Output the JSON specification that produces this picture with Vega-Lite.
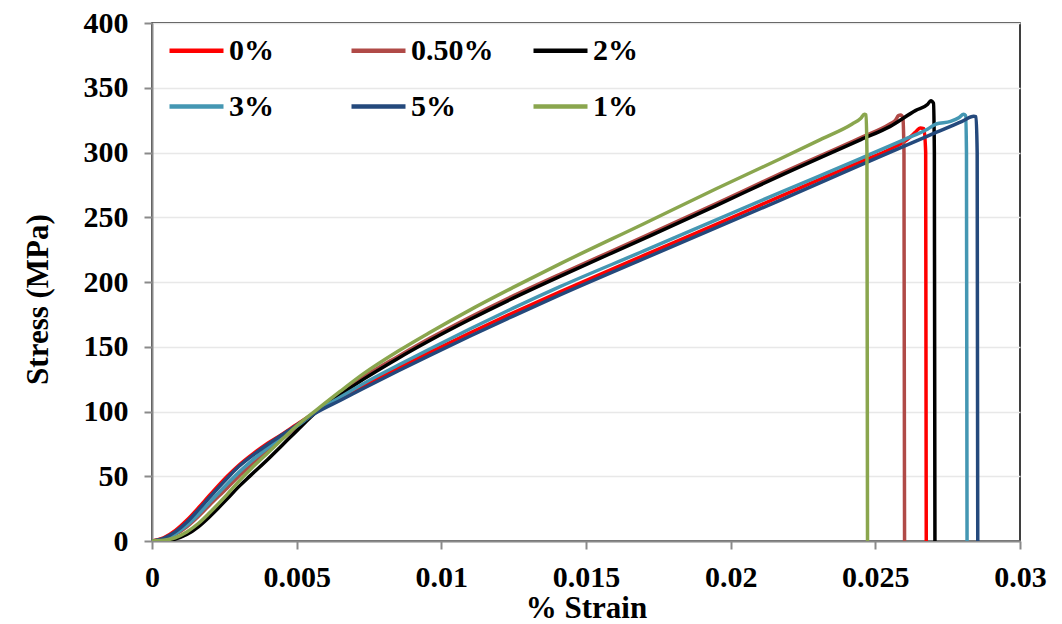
{
  "$schema": "https://vega.github.io/schema/vega-lite/v6.json",
  "width": 868,
  "height": 518,
  "autosize": {"type": "none"},
  "padding": {"left": 152, "top": 23, "right": 42, "bottom": 83},
  "background": "white",
  "config": {
    "view": {"stroke": "black", "strokeWidth": 1.5},
    "axis": {
      "labelFont": "Liberation Serif", "labelFontWeight": "bold", "labelFontSize": 30, "labelColor": "black",
      "titleFont": "Liberation Serif", "titleFontWeight": "bold", "titleFontSize": 31, "titleColor": "black",
      "domainColor": "#8a8a8a", "domainWidth": 2, "tickColor": "#8a8a8a", "tickWidth": 2, "tickSize": 8,
      "gridColor": "#e8e8e8", "gridWidth": 1.5, "labelFlush": false
    }
  },
  "data": {"values": [
    {"s":"0%","x":0,"y":0},{"s":"0%","x":0.0004,"y":2.5},{"s":"0%","x":0.0008,"y":8},{"s":"0%","x":0.0012,"y":16},{"s":"0%","x":0.0016,"y":25.5},{"s":"0%","x":0.002,"y":35.5},{"s":"0%","x":0.0026,"y":50},{"s":"0%","x":0.003,"y":58.5},{"s":"0%","x":0.0035,"y":67.5},{"s":"0%","x":0.004,"y":75.5},{"s":"0%","x":0.0045,"y":82.5},{"s":"0%","x":0.005,"y":90},{"s":"0%","x":0.0057,"y":100},{"s":"0%","x":0.0065,"y":109.9},{"s":"0%","x":0.0073,"y":119.5},{"s":"0%","x":0.0085,"y":133.4},{"s":"0%","x":0.0096,"y":145.7},{"s":"0%","x":0.011,"y":160.8},{"s":"0%","x":0.0125,"y":176.4},{"s":"0%","x":0.0141,"y":192.4},{"s":"0%","x":0.017,"y":220.5},{"s":"0%","x":0.0195,"y":244.5},{"s":"0%","x":0.0217,"y":266},{"s":"0%","x":0.0245,"y":293},{"s":"0%","x":0.0255,"y":302.5},{"s":"0%","x":0.0261,"y":310},{"s":"0%","x":0.0264,"y":316},{"s":"0%","x":0.02655,"y":319},{"s":"0%","x":0.02668,"y":318.5},{"s":"0%","x":0.02674,"y":300},{"s":"0%","x":0.02676,"y":0},
    {"s":"0.50%","x":0,"y":0},{"s":"0.50%","x":0.0004,"y":1.5},{"s":"0.50%","x":0.0008,"y":5},{"s":"0.50%","x":0.0012,"y":11},{"s":"0.50%","x":0.0016,"y":19},{"s":"0.50%","x":0.002,"y":28},{"s":"0.50%","x":0.0026,"y":41},{"s":"0.50%","x":0.003,"y":50},{"s":"0.50%","x":0.0035,"y":60},{"s":"0.50%","x":0.004,"y":70},{"s":"0.50%","x":0.0045,"y":79},{"s":"0.50%","x":0.005,"y":88},{"s":"0.50%","x":0.0057,"y":100.5},{"s":"0.50%","x":0.0065,"y":114},{"s":"0.50%","x":0.0073,"y":126.5},{"s":"0.50%","x":0.0085,"y":142.5},{"s":"0.50%","x":0.0096,"y":156.5},{"s":"0.50%","x":0.011,"y":173},{"s":"0.50%","x":0.0125,"y":189.5},{"s":"0.50%","x":0.0141,"y":206},{"s":"0.50%","x":0.017,"y":235},{"s":"0.50%","x":0.0195,"y":260.5},{"s":"0.50%","x":0.0217,"y":283.5},{"s":"0.50%","x":0.0245,"y":311.5},{"s":"0.50%","x":0.0255,"y":322},{"s":"0.50%","x":0.0257,"y":325},{"s":"0.50%","x":0.0258,"y":328.5},{"s":"0.50%","x":0.02588,"y":329},{"s":"0.50%","x":0.02595,"y":327},{"s":"0.50%","x":0.02599,"y":300},{"s":"0.50%","x":0.02601,"y":0},
    {"s":"2%","x":0,"y":0},{"s":"2%","x":0.0004,"y":0},{"s":"2%","x":0.0008,"y":1.5},{"s":"2%","x":0.0012,"y":5},{"s":"2%","x":0.0016,"y":11},{"s":"2%","x":0.002,"y":19},{"s":"2%","x":0.0026,"y":32.5},{"s":"2%","x":0.003,"y":42},{"s":"2%","x":0.0034,"y":50.5},{"s":"2%","x":0.004,"y":63},{"s":"2%","x":0.0045,"y":74},{"s":"2%","x":0.005,"y":85},{"s":"2%","x":0.0057,"y":100},{"s":"2%","x":0.0065,"y":112.8},{"s":"2%","x":0.0073,"y":124.8},{"s":"2%","x":0.0085,"y":141},{"s":"2%","x":0.0096,"y":154.8},{"s":"2%","x":0.011,"y":171.2},{"s":"2%","x":0.0125,"y":187.7},{"s":"2%","x":0.0141,"y":204.3},{"s":"2%","x":0.017,"y":233.5},{"s":"2%","x":0.0195,"y":259},{"s":"2%","x":0.0217,"y":282},{"s":"2%","x":0.0245,"y":310},{"s":"2%","x":0.0255,"y":320},{"s":"2%","x":0.0264,"y":332.5},{"s":"2%","x":0.0268,"y":337},{"s":"2%","x":0.02692,"y":340},{"s":"2%","x":0.02701,"y":338},{"s":"2%","x":0.02704,"y":300},{"s":"2%","x":0.02706,"y":0},
    {"s":"3%","x":0,"y":0},{"s":"3%","x":0.0004,"y":1.5},{"s":"3%","x":0.0008,"y":5.5},{"s":"3%","x":0.0012,"y":12},{"s":"3%","x":0.0016,"y":20.5},{"s":"3%","x":0.002,"y":30},{"s":"3%","x":0.0026,"y":44},{"s":"3%","x":0.003,"y":53},{"s":"3%","x":0.0035,"y":63},{"s":"3%","x":0.004,"y":72},{"s":"3%","x":0.0045,"y":80.5},{"s":"3%","x":0.005,"y":88.5},{"s":"3%","x":0.0057,"y":100},{"s":"3%","x":0.0065,"y":111},{"s":"3%","x":0.0073,"y":121.5},{"s":"3%","x":0.0085,"y":135.7},{"s":"3%","x":0.0096,"y":148.3},{"s":"3%","x":0.011,"y":163.9},{"s":"3%","x":0.0125,"y":180},{"s":"3%","x":0.0141,"y":196.4},{"s":"3%","x":0.017,"y":224},{"s":"3%","x":0.0195,"y":248},{"s":"3%","x":0.0217,"y":269},{"s":"3%","x":0.0245,"y":295.5},{"s":"3%","x":0.026,"y":310},{"s":"3%","x":0.0268,"y":318},{"s":"3%","x":0.0271,"y":322},{"s":"3%","x":0.0276,"y":324},{"s":"3%","x":0.0279,"y":327},{"s":"3%","x":0.02805,"y":329.5},{"s":"3%","x":0.02812,"y":328.5},{"s":"3%","x":0.02815,"y":300},{"s":"3%","x":0.02817,"y":0},
    {"s":"5%","x":0,"y":0},{"s":"5%","x":0.0004,"y":2},{"s":"5%","x":0.0008,"y":7},{"s":"5%","x":0.0012,"y":14.5},{"s":"5%","x":0.0016,"y":24},{"s":"5%","x":0.002,"y":34},{"s":"5%","x":0.0026,"y":48.5},{"s":"5%","x":0.003,"y":57.5},{"s":"5%","x":0.0035,"y":66.5},{"s":"5%","x":0.004,"y":74.5},{"s":"5%","x":0.0045,"y":82},{"s":"5%","x":0.005,"y":89.5},{"s":"5%","x":0.0057,"y":99.5},{"s":"5%","x":0.0065,"y":108.5},{"s":"5%","x":0.0073,"y":117.8},{"s":"5%","x":0.0085,"y":131.3},{"s":"5%","x":0.0096,"y":143.3},{"s":"5%","x":0.011,"y":158.3},{"s":"5%","x":0.0125,"y":173.9},{"s":"5%","x":0.0141,"y":190},{"s":"5%","x":0.017,"y":218},{"s":"5%","x":0.0195,"y":242},{"s":"5%","x":0.0217,"y":263},{"s":"5%","x":0.0245,"y":290.5},{"s":"5%","x":0.026,"y":305},{"s":"5%","x":0.027,"y":314.5},{"s":"5%","x":0.028,"y":324},{"s":"5%","x":0.0284,"y":328},{"s":"5%","x":0.02848,"y":327.5},{"s":"5%","x":0.02852,"y":300},{"s":"5%","x":0.02854,"y":0},
    {"s":"1%","x":0,"y":0},{"s":"1%","x":0.0004,"y":0.5},{"s":"1%","x":0.0008,"y":2.5},{"s":"1%","x":0.0012,"y":7},{"s":"1%","x":0.0016,"y":13.5},{"s":"1%","x":0.002,"y":22},{"s":"1%","x":0.0026,"y":36},{"s":"1%","x":0.003,"y":46},{"s":"1%","x":0.0035,"y":57.5},{"s":"1%","x":0.004,"y":68},{"s":"1%","x":0.0045,"y":78.5},{"s":"1%","x":0.005,"y":89},{"s":"1%","x":0.0057,"y":101.5},{"s":"1%","x":0.0065,"y":115.5},{"s":"1%","x":0.0073,"y":129},{"s":"1%","x":0.0085,"y":146.5},{"s":"1%","x":0.0096,"y":161},{"s":"1%","x":0.011,"y":178.5},{"s":"1%","x":0.0125,"y":196},{"s":"1%","x":0.0141,"y":214},{"s":"1%","x":0.017,"y":245},{"s":"1%","x":0.0195,"y":272},{"s":"1%","x":0.0217,"y":295},{"s":"1%","x":0.0231,"y":310},{"s":"1%","x":0.0242,"y":322},{"s":"1%","x":0.0245,"y":326.5},{"s":"1%","x":0.02462,"y":329.5},{"s":"1%","x":0.02468,"y":329},{"s":"1%","x":0.02471,"y":300},{"s":"1%","x":0.02473,"y":0}
  ]},
  "mark": {"type": "line", "strokeWidth": 3.5, "strokeJoin": "round", "strokeCap": "round", "interpolate": "monotone", "clip": true},
  "encoding": {
    "x": {"field": "x", "type": "quantitative",
      "scale": {"domain": [0, 0.03], "nice": false, "zero": true},
      "axis": {"title": "% Strain", "grid": false, "values": [0, 0.005, 0.01, 0.015, 0.02, 0.025, 0.03],
        "labelExpr": "format(datum.value, '~g')", "labelPadding": 13, "titleY": 76, "titleBaseline": "alphabetic"}},
    "y": {"field": "y", "type": "quantitative",
      "scale": {"domain": [0, 400], "nice": false},
      "axis": {"title": "Stress (MPa)", "values": [0, 50, 100, 150, 200, 250, 300, 350, 400],
        "labelPadding": 16, "titleX": -105, "titleY": 276, "titleBaseline": "alphabetic"}},
    "color": {"field": "s", "type": "nominal",
      "scale": {"domain": ["0%", "0.50%", "2%", "3%", "5%", "1%"],
        "range": ["#ff0000", "#b04a47", "#000000", "#4497b3", "#24497c", "#8aa64e"]},
      "legend": {"orient": "none", "legendX": 15, "legendY": -2, "columns": 3, "direction": "horizontal",
        "symbolType": "stroke", "symbolSize": 2916, "symbolStrokeWidth": 4.5, "labelOffset": 3,
        "labelFont": "Liberation Serif", "labelFontWeight": "bold", "labelFontSize": 30, "labelColor": "black",
        "gridAlign": "all", "columnPadding": 30, "rowPadding": 11, "title": null}}
  }
}
